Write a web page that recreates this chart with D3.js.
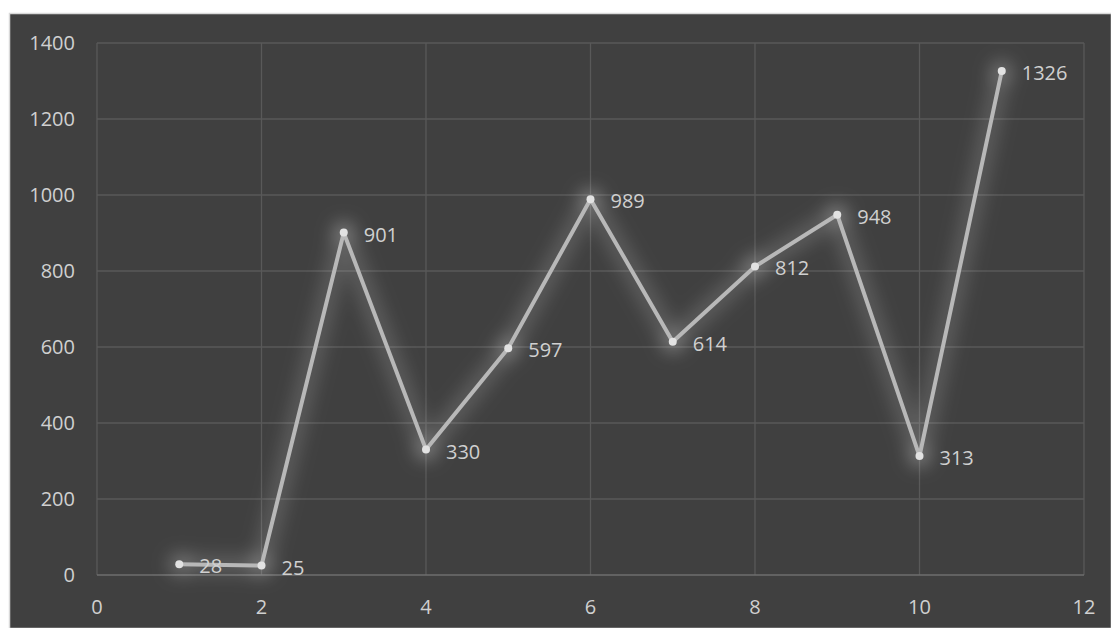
<!DOCTYPE html>
<html lang="en">
<head>
<meta charset="utf-8" />
<title>Line chart</title>
<script src="https://d3js.org/d3.v7.min.js"></script>
<style>
    body { margin: 0; padding: 0; background: #ffffff; }
    svg { display: block; }
</style>
</head>
<body>
<svg id="chart"></svg>
<script>
    var w = 1111;
    var h = 628;

    // Data
    var xValues = [1, 2, 3, 4, 5, 6, 7, 8, 9, 10, 11];
    var yValues = [28, 25, 901, 330, 597, 989, 614, 812, 948, 313, 1326];
    var xTicks = [0, 2, 4, 6, 8, 10, 12];
    var yTicks = [0, 200, 400, 600, 800, 1000, 1200, 1400];

    var points = xValues.map(function(x, i) { return { x: x, y: yValues[i] }; });

    var svg = d3.select("#chart")
        .attr("width", w)
        .attr("height", h);

    // chart background
    svg.append("rect")
        .attr("x", 9.5).attr("y", 13.5)
        .attr("width", w - 9).attr("height", h - 13)
        .attr("fill", "#404040")
        .attr("stroke", "#d9d9d9")
        .attr("stroke-width", 1.5);

    var xScale = d3.scaleLinear().domain([0, 12]).range([97, 1084]);
    var yScale = d3.scaleLinear().domain([0, 1400]).range([575, 43]);

    // glow filter, region covers the whole picture so nothing gets clipped
    var defs = svg.append("defs");
    var f = defs.append("filter").attr("id", "glow")
        .attr("filterUnits", "userSpaceOnUse")
        .attr("x", 0).attr("y", 0).attr("width", w).attr("height", h);
    f.append("feGaussianBlur").attr("stdDeviation", 9);

    // gridlines
    svg.append("g")
        .selectAll("line.h")
        .data(yTicks.slice(1))
        .enter().append("line")
        .attr("x1", xScale(0)).attr("x2", xScale(12))
        .attr("y1", function(d) { return yScale(d); })
        .attr("y2", function(d) { return yScale(d); })
        .attr("stroke", "#595959").attr("stroke-width", 1.3);

    svg.append("g")
        .selectAll("line.v")
        .data(xTicks)
        .enter().append("line")
        .attr("y1", yScale(0)).attr("y2", yScale(1400))
        .attr("x1", function(d) { return xScale(d); })
        .attr("x2", function(d) { return xScale(d); })
        .attr("stroke", "#595959").attr("stroke-width", 1.3);

    // x axis line
    svg.append("line")
        .attr("x1", xScale(0)).attr("x2", xScale(12))
        .attr("y1", yScale(0)).attr("y2", yScale(0))
        .attr("stroke", "#6e6e6e").attr("stroke-width", 1.5);

    // tick labels
    svg.append("g")
        .selectAll("text")
        .data(yTicks)
        .enter().append("text")
        .attr("x", 75)
        .attr("y", function(d) { return yScale(d); })
        .attr("dy", "0.35em")
        .attr("text-anchor", "end")
        .attr("font-family", "Open Sans, sans-serif")
        .attr("font-size", "20px")
        .attr("fill", "#d0d0d0")
        .text(function(d) { return d; });

    svg.append("g")
        .selectAll("text")
        .data(xTicks)
        .enter().append("text")
        .attr("x", function(d) { return xScale(d); })
        .attr("y", 607)
        .attr("dy", "0.35em")
        .attr("text-anchor", "middle")
        .attr("font-family", "Open Sans, sans-serif")
        .attr("font-size", "20px")
        .attr("fill", "#d0d0d0")
        .text(function(d) { return d; });

    var line = d3.line()
        .x(function(d) { return xScale(d.x); })
        .y(function(d) { return yScale(d.y); });

    // glow behind the line and markers
    var glow = svg.append("g").attr("filter", "url(#glow)");

    glow.append("path")
        .datum(points)
        .attr("d", line)
        .attr("fill", "none")
        .attr("stroke", "#ffffff")
        .attr("stroke-opacity", 0.16)
        .attr("stroke-width", 18)
        .attr("stroke-linejoin", "round");

    glow.selectAll("circle")
        .data(points)
        .enter().append("circle")
        .attr("cx", function(d) { return xScale(d.x); })
        .attr("cy", function(d) { return yScale(d.y); })
        .attr("r", 11)
        .attr("fill", "#ffffff")
        .attr("fill-opacity", 0.22);

    svg.append("path")
        .datum(points)
        .attr("d", line)
        .attr("fill", "none")
        .attr("stroke", "#b8b8b8")
        .attr("stroke-width", 4)
        .attr("stroke-linejoin", "round");

    // markers
    svg.append("g")
        .selectAll("circle")
        .data(points)
        .enter().append("circle")
        .attr("cx", function(d) { return xScale(d.x); })
        .attr("cy", function(d) { return yScale(d.y); })
        .attr("r", 4)
        .attr("fill", "#e2e2e2");

    // data labels
    svg.append("g")
        .selectAll("text")
        .data(points)
        .enter().append("text")
        .attr("x", function(d) { return xScale(d.x) + 20; })
        .attr("y", function(d) { return yScale(d.y) + 2; })
        .attr("dy", "0.35em")
        .attr("font-family", "Open Sans, sans-serif")
        .attr("font-size", "20px")
        .attr("fill", "#d0d0d0")
        .text(function(d) { return d.y; });
</script>
</body>
</html>
